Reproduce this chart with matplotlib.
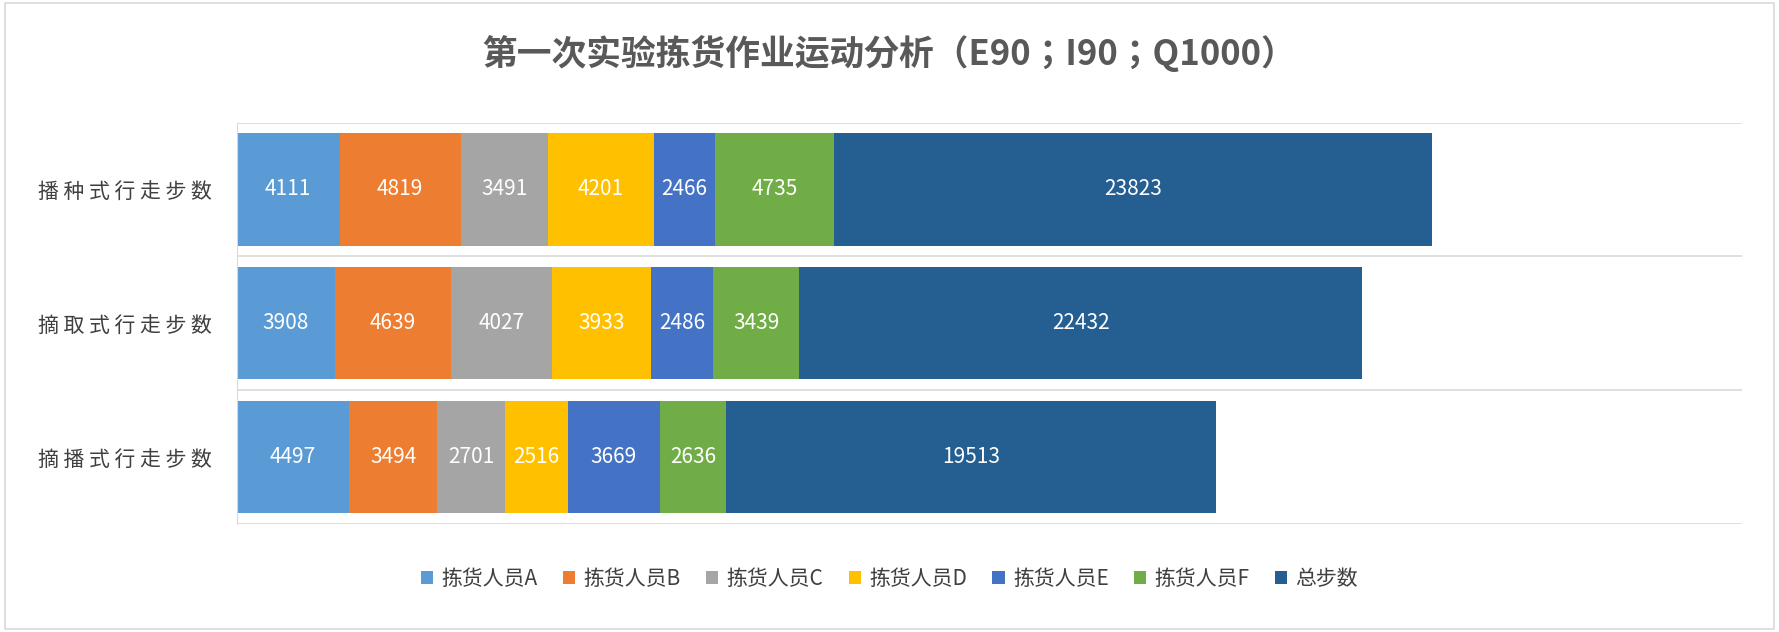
import matplotlib
matplotlib.use("Agg")
import matplotlib.pyplot as plt
from matplotlib import font_manager
from matplotlib.patches import Rectangle

cjk = [f.name for f in font_manager.fontManager.ttflist if "CJK" in f.name]
pref = [n for n in cjk if "SC" in n] or cjk
plt.rcParams["font.family"] = ([pref[0]] if pref else []) + ["DejaVu Sans"]

categories = ["播种式行走步数", "摘取式行走步数", "摘播式行走步数"]
series_names = ["拣货人员A", "拣货人员B", "拣货人员C", "拣货人员D", "拣货人员E", "拣货人员F", "总步数"]
values = [
    [4111, 3908, 4497],
    [4819, 4639, 3494],
    [3491, 4027, 2701],
    [4201, 3933, 2516],
    [2466, 2486, 3669],
    [4735, 3439, 2636],
    [23823, 22432, 19513],
]
colors = ["#5B9BD5", "#ED7D31", "#A5A5A5", "#FFC000", "#4472C4", "#70AD47", "#255E91"]

fig = plt.figure(figsize=(17.79, 6.32), dpi=100)
fig.patches.append(Rectangle((0.003, 0.005), 0.994, 0.99, transform=fig.transFigure,
                             fill=False, edgecolor="#D9D9D9", linewidth=1.2))
ax = fig.add_axes([0.133, 0.171, 0.846, 0.635])

y = list(range(len(categories)))[::-1]
left = [0, 0, 0]
for name, vals, c in zip(series_names, values, colors):
    ax.barh(y, vals, left=left, color=c, height=0.84, label=name)
    for yi, l, v in zip(y, left, vals):
        ax.text(l + v / 2, yi, str(v), ha="center", va="center", color="white", fontsize=15)
    left = [a + b for a, b in zip(left, vals)]

ax.set_xlim(0, 60000)
ax.set_ylim(-0.5, 2.5)
ax.set_yticks(y)
ax.set_yticklabels([" ".join(c) for c in categories], fontsize=15, color="#404040")
for b in [-0.5, 0.5, 1.5, 2.5]:
    ax.axhline(b, color="#D9D9D9", linewidth=1.2, zorder=0)
ax.set_xticks([])
for s in ["top", "right", "bottom"]:
    ax.spines[s].set_visible(False)
ax.spines["left"].set_color("#D9D9D9")
ax.tick_params(axis="y", length=0, pad=18)

fig.text(0.5, 0.915, "第一次实验拣货作业运动分析（E90；I90；Q1000）", ha="center", va="center",
         fontsize=25, fontweight="bold", color="#595959")
fig.legend(loc="center", bbox_to_anchor=(0.5, 0.084), ncol=7, frameon=False,
           fontsize=15, handlelength=0.6, handleheight=0.6, columnspacing=1.2,
           handletextpad=0.4, labelcolor="#404040")
fig.savefig("out.png", dpi=100)
